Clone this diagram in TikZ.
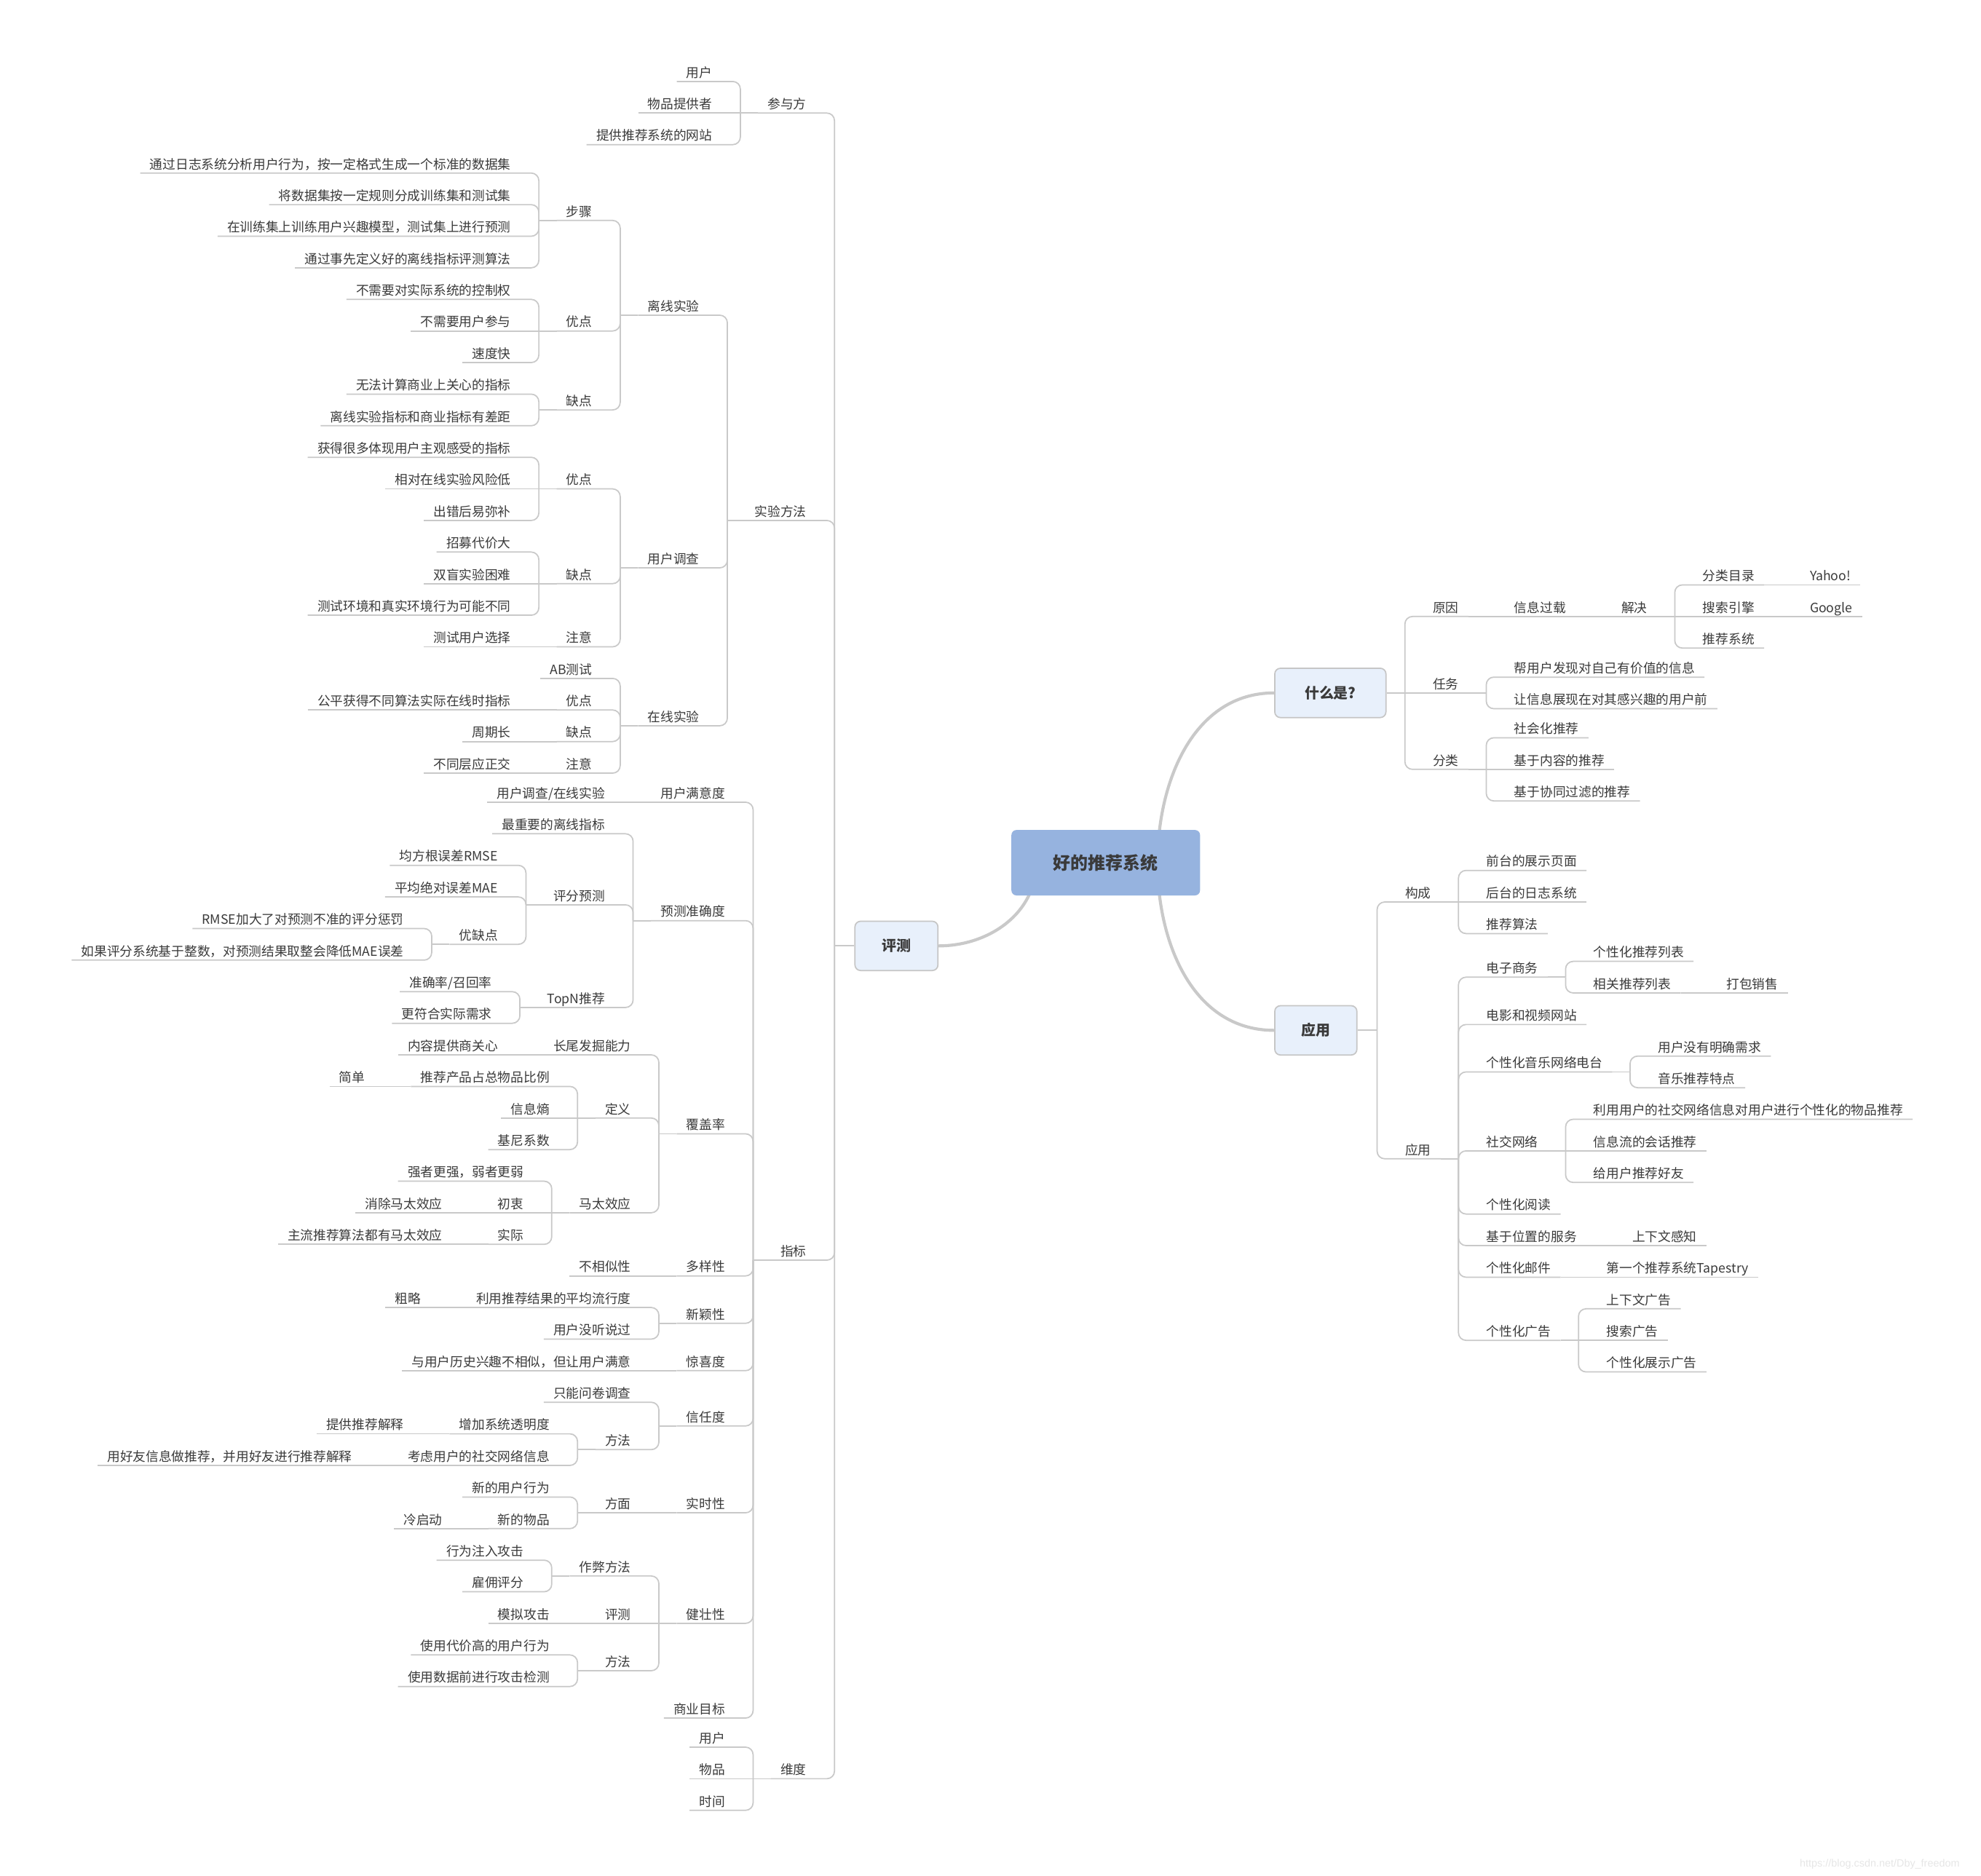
\documentclass[tikz,border=0pt]{standalone}
\usepackage{fontspec}
\setmainfont{Noto Sans CJK SC}
\newfontfamily\wmfont{Liberation Sans}
\usetikzlibrary{calc}
\definecolor{lc}{HTML}{C9C9C9}
\definecolor{txt}{HTML}{3A3A3A}
\definecolor{boxfill}{HTML}{E8F0FB}
\definecolor{rootfill}{HTML}{96B3DF}
\definecolor{boxline}{HTML}{C6C6C6}
\definecolor{wmc}{HTML}{E6E6E6}
\pgfdeclarelayer{bg}
\pgfsetlayers{bg,main}
\newcommand\mNL[4]{\node[tl] (#1) at ({#2+7.5},{#3+7}) {#4};}
\newcommand\mNR[4]{\node[tr] (#1) at ({#2-7.5},{#3+7}) {#4};}
\newcommand\mLC[2]{\draw[ul,rounded corners=6] (#1.south west) -- ($(#1.south east)+(14.5,0)$) coordinate (tmpc) -- (tmpc |- #2.south west); \draw[ul] (tmpc |- #2.south west) -- (#2.south west);}
\newcommand\mLS[2]{\draw[ul] (#1.south west) -- (#2.south west);}
\newcommand\mLB[2]{\draw[ul,rounded corners=6] (#1.south west) -- ($(#1.south east)+(14.5,0)$) coordinate (tmpc) -- (tmpc |- #2.west); \draw[ul] (tmpc |- #2.west) -- (#2.west);}
\newcommand\mRC[2]{\draw[ul,rounded corners=6] (#1.south east) -- ($(#1.south west)+(-14.5,0)$) coordinate (tmpc) -- (tmpc |- #2.south east); \draw[ul] (tmpc |- #2.south east) -- (#2.south east);}
\newcommand\mRS[2]{\draw[ul] (#1.south east) -- (#2.south east);}
\newcommand\mRB[2]{\draw[ul,rounded corners=6] (#1.south east) -- ($(#1.south west)+(-14.5,0)$) coordinate (tmpc) -- (tmpc |- #2.east); \draw[ul] (tmpc |- #2.east) -- (#2.east);}
\newcommand\mRBS[2]{\draw[ul] (#1.south east) -- (#2.east);}
\begin{document}
\begin{tikzpicture}[x=1pt,y=-1pt,
  tl/.style={anchor=south east,inner xsep=7.5,inner ysep=1,text height=8,text depth=2.1,font=\fontsize{10.2}{12}\selectfont,text=txt},
  tr/.style={tl,anchor=south west},
  ul/.style={draw=lc,line width=1},
  curve/.style={draw=lc,line width=2.4},
  box/.style={draw=boxline,line width=1,fill=boxfill,rounded corners=4.5,minimum height=39,inner sep=0,text=txt,font=\fontsize{11.5}{13}\selectfont\bfseries},
  rootbox/.style={fill=rootfill,rounded corners=4,minimum width=149.3,minimum height=51.8,inner sep=0,text=txt,font=\fontsize{13.8}{16}\selectfont\bfseries}]
\useasboundingbox (0,0) rectangle (1568,1485);
\begin{pgfonlayer}{bg}
\fill[white] (0,0) rectangle (1568,1485);
\end{pgfonlayer}
% main boxes
\node[rootbox] (root) at (875.2,682.9) {好的推荐系统};
\node[box,minimum width=65.7] (pc) at (709.55,748.75) {评测};
\node[box,minimum width=88] (wh) at (1053,548.5) {什么是?};
\node[box,minimum width=65] (yy) at (1041.5,815.6) {应用};
\begin{pgfonlayer}{bg}
\draw[curve] ($(root.center)+(-55,0)$) .. controls ($(root.center)+(-55,40)$) and ($(pc.east)+(40,0)$) .. (pc.east);
\draw[curve] ($(root.center)+(41,0)$) .. controls ($(root.center)+(41,-64)$) and ($(wh.west)+(-64,0)$) .. (wh.west);
\draw[curve] ($(root.center)+(41,0)$) .. controls ($(root.center)+(41,64)$) and ($(yy.west)+(-64,0)$) .. (yy.west);
\end{pgfonlayer}
% ===== left: 评测 =====
\mNL{a1}{638.5}{82.5}{参与方}
\mNL{a2}{638.5}{405}{实验方法}
\mNL{a3}{638.5}{990.5}{指标}
\mNL{a4}{638.5}{1401}{维度}
\mNL{a11}{564}{57.5}{用户}
\mNL{a12}{564}{82.5}{物品提供者}
\mNL{a13}{564}{107.5}{提供推荐系统的网站}
\mNL{b1}{553.7}{242.5}{离线实验}
\mNL{b2}{553.7}{442.5}{用户调查}
\mNL{b3}{553.7}{567.5}{在线实验}
\mNL{b11}{468.9}{167.5}{步骤}
\mNL{b12}{468.9}{255}{优点}
\mNL{b13}{468.9}{317.5}{缺点}
\mNL{b111}{404.5}{130}{通过日志系统分析用户行为，按一定格式生成一个标准的数据集}
\mNL{b112}{404.5}{155}{将数据集按一定规则分成训练集和测试集}
\mNL{b113}{404.5}{180}{在训练集上训练用户兴趣模型，测试集上进行预测}
\mNL{b114}{404.5}{205}{通过事先定义好的离线指标评测算法}
\mNL{b121}{404.5}{230}{不需要对实际系统的控制权}
\mNL{b122}{404.5}{255}{不需要用户参与}
\mNL{b123}{404.5}{280}{速度快}
\mNL{b131}{404.5}{305}{无法计算商业上关心的指标}
\mNL{b132}{404.5}{330}{离线实验指标和商业指标有差距}
\mNL{b21}{468.9}{380}{优点}
\mNL{b22}{468.9}{455}{缺点}
\mNL{b23}{468.9}{505}{注意}
\mNL{b211}{404.5}{355}{获得很多体现用户主观感受的指标}
\mNL{b212}{404.5}{380}{相对在线实验风险低}
\mNL{b213}{404.5}{405}{出错后易弥补}
\mNL{b221}{404.5}{430}{招募代价大}
\mNL{b222}{404.5}{455}{双盲实验困难}
\mNL{b223}{404.5}{480}{测试环境和真实环境行为可能不同}
\mNL{b231}{404.5}{505}{测试用户选择}
\mNL{b31}{468.9}{530}{AB测试}
\mNL{b32}{468.9}{555}{优点}
\mNL{b33}{468.9}{580}{缺点}
\mNL{b34}{468.9}{605}{注意}
\mNL{b321}{404.5}{555}{公平获得不同算法实际在线时指标}
\mNL{b331}{404.5}{580}{周期长}
\mNL{b341}{404.5}{605}{不同层应正交}
\mNL{c1}{574.1}{628}{用户满意度}
\mNL{c11}{479.1}{628}{用户调查/在线实验}
\mNL{c2}{574.1}{721.75}{预测准确度}
\mNL{c21}{479.1}{653}{最重要的离线指标}
\mNL{c22}{479.1}{709.25}{评分预测}
\mNL{c23}{479.1}{790.5}{TopN推荐}
\mNL{c221}{394.3}{678}{均方根误差RMSE}
\mNL{c222}{394.3}{703}{平均绝对误差MAE}
\mNL{c223}{394.3}{740.5}{优缺点}
\mNL{c2231}{319.7}{728}{RMSE加大了对预测不准的评分惩罚}
\mNL{c2232}{319.7}{753}{如果评分系统基于整数，对预测结果取整会降低MAE误差}
\mNL{c231}{389.5}{778}{准确率/召回率}
\mNL{c232}{389.5}{803}{更符合实际需求}
\mNL{c3}{574.1}{890.5}{覆盖率}
\mNL{c31}{499.5}{828}{长尾发掘能力}
\mNL{c311}{394.3}{828}{内容提供商关心}
\mNL{c32}{499.5}{878}{定义}
\mNL{c321}{435.1}{853}{推荐产品占总物品比例}
\mNL{c3211}{289.1}{853}{简单}
\mNL{c322}{435.1}{878}{信息熵}
\mNL{c323}{435.1}{903}{基尼系数}
\mNL{c33}{499.5}{953}{马太效应}
\mNL{c331}{414.7}{928}{强者更强，弱者更弱}
\mNL{c332}{414.7}{953}{初衷}
\mNL{c3321}{350.3}{953}{消除马太效应}
\mNL{c333}{414.7}{978}{实际}
\mNL{c3331}{350.3}{978}{主流推荐算法都有马太效应}
\mNL{c4}{574.1}{1003}{多样性}
\mNL{c41}{499.5}{1003}{不相似性}
\mNL{c5}{574.1}{1040.5}{新颖性}
\mNL{c51}{499.5}{1028}{利用推荐结果的平均流行度}
\mNL{c511}{333.1}{1028}{粗略}
\mNL{c52}{499.5}{1053}{用户没听说过}
\mNL{c6}{574.1}{1078}{惊喜度}
\mNL{c61}{499.5}{1078}{与用户历史兴趣不相似，但让用户满意}
\mNL{c7}{574.1}{1121.75}{信任度}
\mNL{c71}{499.5}{1103}{只能问卷调查}
\mNL{c72}{499.5}{1140.5}{方法}
\mNL{c721}{435.1}{1128}{增加系统透明度}
\mNL{c7211}{319.7}{1128}{提供推荐解释}
\mNL{c722}{435.1}{1153}{考虑用户的社交网络信息}
\mNL{c7221}{278.9}{1153}{用好友信息做推荐，并用好友进行推荐解释}
\mNL{c8}{574.1}{1190.5}{实时性}
\mNL{c81}{499.5}{1190.5}{方面}
\mNL{c811}{435.1}{1178}{新的用户行为}
\mNL{c812}{435.1}{1203}{新的物品}
\mNL{c8121}{350.3}{1203}{冷启动}
\mNL{c9}{574.1}{1278}{健壮性}
\mNL{c91}{499.5}{1240.5}{作弊方法}
\mNL{c911}{414.7}{1228}{行为注入攻击}
\mNL{c912}{414.7}{1253}{雇佣评分}
\mNL{c92}{499.5}{1278}{评测}
\mNL{c921}{435.1}{1278}{模拟攻击}
\mNL{c93}{499.5}{1315.5}{方法}
\mNL{c931}{435.1}{1303}{使用代价高的用户行为}
\mNL{c932}{435.1}{1328}{使用数据前进行攻击检测}
\mNL{c10}{574.1}{1353}{商业目标}
\mNL{d1}{574.1}{1376}{用户}
\mNL{d2}{574.1}{1401}{物品}
\mNL{d3}{574.1}{1426}{时间}
% left connectors
\mLB{a1}{pc} \mLB{a2}{pc} \mLB{a3}{pc} \mLB{a4}{pc}
\mLC{a11}{a1} \mLS{a12}{a1} \mLC{a13}{a1}
\mLC{b1}{a2} \mLC{b2}{a2} \mLC{b3}{a2}
\mLC{b11}{b1} \mLC{b12}{b1} \mLC{b13}{b1}
\mLC{b111}{b11} \mLC{b112}{b11} \mLC{b113}{b11} \mLC{b114}{b11}
\mLC{b121}{b12} \mLS{b122}{b12} \mLC{b123}{b12}
\mLC{b131}{b13} \mLC{b132}{b13}
\mLC{b21}{b2} \mLC{b22}{b2} \mLC{b23}{b2}
\mLC{b211}{b21} \mLS{b212}{b21} \mLC{b213}{b21}
\mLC{b221}{b22} \mLS{b222}{b22} \mLC{b223}{b22}
\mLS{b231}{b23}
\mLC{b31}{b3} \mLC{b32}{b3} \mLC{b33}{b3} \mLC{b34}{b3}
\mLS{b321}{b32} \mLS{b331}{b33} \mLS{b341}{b34}
\mLC{c1}{a3} \mLC{c2}{a3} \mLC{c3}{a3} \mLC{c4}{a3} \mLC{c5}{a3}
\mLC{c6}{a3} \mLC{c7}{a3} \mLC{c8}{a3} \mLC{c9}{a3} \mLC{c10}{a3}
\mLS{c11}{c1}
\mLC{c21}{c2} \mLC{c22}{c2} \mLC{c23}{c2}
\mLC{c221}{c22} \mLC{c222}{c22} \mLC{c223}{c22}
\mLC{c2231}{c223} \mLC{c2232}{c223}
\mLC{c231}{c23} \mLC{c232}{c23}
\mLC{c31}{c3} \mLC{c32}{c3} \mLC{c33}{c3}
\mLS{c311}{c31}
\mLC{c321}{c32} \mLS{c322}{c32} \mLC{c323}{c32}
\mLS{c3211}{c321}
\mLC{c331}{c33} \mLS{c332}{c33} \mLC{c333}{c33}
\mLS{c3321}{c332} \mLS{c3331}{c333}
\mLS{c41}{c4}
\mLC{c51}{c5} \mLC{c52}{c5} \mLS{c511}{c51}
\mLS{c61}{c6}
\mLC{c71}{c7} \mLC{c72}{c7}
\mLC{c721}{c72} \mLC{c722}{c72} \mLS{c7211}{c721} \mLS{c7221}{c722}
\mLS{c81}{c8} \mLC{c811}{c81} \mLC{c812}{c81} \mLS{c8121}{c812}
\mLC{c91}{c9} \mLS{c92}{c9} \mLC{c93}{c9}
\mLC{c911}{c91} \mLC{c912}{c91} \mLS{c921}{c92} \mLC{c931}{c93} \mLC{c932}{c93}
\mLC{d1}{a4} \mLS{d2}{a4} \mLC{d3}{a4}
% ===== right: 什么是? =====
\mNR{e1}{1134}{481}{原因}
\mNR{e11}{1198.4}{481}{信息过载}
\mNR{e111}{1283.2}{481}{解决}
\mNR{e1111}{1347.6}{456}{分类目录}
\mNR{e11111}{1432.4}{456}{Yahoo!}
\mNR{e1112}{1347.6}{481}{搜索引擎}
\mNR{e11121}{1432.4}{481}{Google}
\mNR{e1113}{1347.6}{506}{推荐系统}
\mNR{e2}{1134}{541.5}{任务}
\mNR{e21}{1198.4}{529}{帮用户发现对自己有价值的信息}
\mNR{e22}{1198.4}{554}{让信息展现在对其感兴趣的用户前}
\mNR{e3}{1134}{602}{分类}
\mNR{e31}{1198.4}{577}{社会化推荐}
\mNR{e32}{1198.4}{602}{基于内容的推荐}
\mNR{e33}{1198.4}{627}{基于协同过滤的推荐}
% ===== right: 应用 =====
\mNR{f1}{1112}{707}{构成}
\mNR{f11}{1176.4}{682}{前台的展示页面}
\mNR{f12}{1176.4}{707}{后台的日志系统}
\mNR{f13}{1176.4}{732}{推荐算法}
\mNR{f2}{1112}{910.25}{应用}
\mNR{f21}{1176.4}{766.5}{电子商务}
\mNR{f211}{1261.2}{754}{个性化推荐列表}
\mNR{f212}{1261.2}{779}{相关推荐列表}
\mNR{f2121}{1366.4}{779}{打包销售}
\mNR{f22}{1176.4}{804}{电影和视频网站}
\mNR{f23}{1176.4}{841.5}{个性化音乐网络电台}
\mNR{f231}{1312.2}{829}{用户没有明确需求}
\mNR{f232}{1312.2}{854}{音乐推荐特点}
\mNR{f24}{1176.4}{904}{社交网络}
\mNR{f241}{1261.2}{879}{利用用户的社交网络信息对用户进行个性化的物品推荐}
\mNR{f242}{1261.2}{904}{信息流的会话推荐}
\mNR{f243}{1261.2}{929}{给用户推荐好友}
\mNR{f25}{1176.4}{954}{个性化阅读}
\mNR{f26}{1176.4}{979}{基于位置的服务}
\mNR{f261}{1291.8}{979}{上下文感知}
\mNR{f27}{1176.4}{1004}{个性化邮件}
\mNR{f271}{1271.4}{1004}{第一个推荐系统Tapestry}
\mNR{f28}{1176.4}{1054}{个性化广告}
\mNR{f281}{1271.4}{1029}{上下文广告}
\mNR{f282}{1271.4}{1054}{搜索广告}
\mNR{f283}{1271.4}{1079}{个性化展示广告}
% right connectors
\mRB{e1}{wh} \mRBS{e2}{wh} \mRB{e3}{wh}
\mRS{e11}{e1} \mRS{e111}{e11}
\mRC{e1111}{e111} \mRS{e1112}{e111} \mRC{e1113}{e111}
\mRS{e11111}{e1111} \mRS{e11121}{e1112}
\mRC{e21}{e2} \mRC{e22}{e2}
\mRC{e31}{e3} \mRS{e32}{e3} \mRC{e33}{e3}
\mRB{f1}{yy} \mRB{f2}{yy}
\mRC{f11}{f1} \mRS{f12}{f1} \mRC{f13}{f1}
\mRC{f21}{f2} \mRC{f22}{f2} \mRC{f23}{f2} \mRC{f24}{f2}
\mRC{f25}{f2} \mRC{f26}{f2} \mRC{f27}{f2} \mRC{f28}{f2}
\mRC{f211}{f21} \mRC{f212}{f21} \mRS{f2121}{f212}
\mRC{f231}{f23} \mRC{f232}{f23}
\mRC{f241}{f24} \mRS{f242}{f24} \mRC{f243}{f24}
\mRS{f261}{f26} \mRS{f271}{f27}
\mRC{f281}{f28} \mRS{f282}{f28} \mRC{f283}{f28}
% watermark
\node[anchor=base west,inner sep=0,font=\wmfont\fontsize{8.3}{10}\selectfont,text=wmc] (wm) at (1424.4,1477.8) {https://blog.csdn.net/Dby\_freedom};
\end{tikzpicture}
\end{document}
